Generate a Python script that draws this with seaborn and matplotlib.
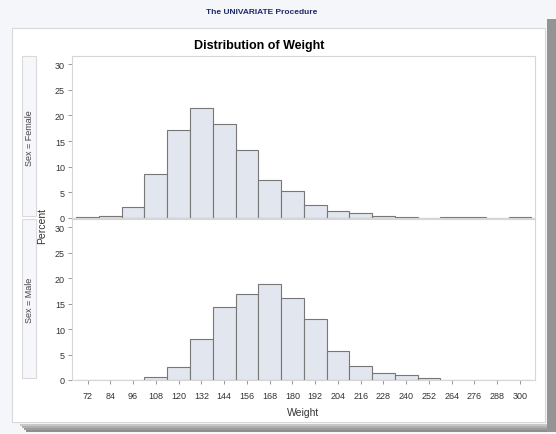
import numpy as np
import pandas as pd
import matplotlib
matplotlib.use("Agg")
import matplotlib.pyplot as plt
from matplotlib.patches import Rectangle
import seaborn as sns

sns.set_theme(style="white")
plt.rcParams['font.family'] = ['Liberation Sans', 'DejaVu Sans']

# ---- data (percent per 12-lb bin, bin midpoints) ----
midpoints = [72, 84, 96, 108, 120, 132, 144, 156, 168, 180, 192, 204, 216, 228, 240, 252, 264, 276, 288, 300]
female_pct = [0.1, 0.3, 2.2, 8.5, 17.1, 21.5, 18.4, 13.2, 7.4, 5.3, 2.6, 1.4, 0.9, 0.45, 0.25, 0.0, 0.1, 0.1, 0.0, 0.1]
male_pct = [0.0, 0.0, 0.0, 0.6, 2.6, 8.1, 14.4, 16.9, 18.8, 16.1, 11.9, 5.7, 2.8, 1.45, 1.0, 0.3, 0.05, 0.05, 0.05, 0.0]
groups = ["Female", "Male"]
yticks = [0, 5, 10, 15, 20, 25, 30]

df = pd.DataFrame({
    "Weight": midpoints * 2,
    "Percent": female_pct + male_pct,
    "Sex": ["Female"] * len(midpoints) + ["Male"] * len(midpoints),
})
bin_w = midpoints[1] - midpoints[0]
bin_range = (midpoints[0] - bin_w / 2, midpoints[-1] + bin_w / 2)

W, H = 556, 435
fig = plt.figure(figsize=(W / 100, H / 100), dpi=100)
fig.patch.set_facecolor("#F4F6FA")

def px(x0, y0, w, h):
    return [x0 / W, 1 - (y0 + h) / H, w / W, h / H]

# shadow (soft) and white panel
for k, c in enumerate(["#C8C8C8", "#B0B0B0", "#9C9C9C", "#8E8E8E"]):
    fig.patches.append(Rectangle(((20 + k * 2) / W, 1 - (425 + 2 * k + 2) / H), (536 - k * 2) / W, 2 / H,
                                 transform=fig.transFigure, facecolor=c, edgecolor="none", zorder=0))
fig.patches.append(Rectangle((547 / W, 1 - 433 / H), 9 / W, 413 / H, transform=fig.transFigure,
                             facecolor="#949494", edgecolor="none", zorder=0))
fig.patches.append(Rectangle((12 / W, 1 - 423 / H), 533 / W, 394 / H, transform=fig.transFigure,
                             facecolor="white", edgecolor="#D8D8D8", linewidth=0.8, zorder=1))

fig.text(262 / W, 1 - 12 / H, "The UNIVARIATE Procedure", ha="center", va="center",
         fontsize=6, fontweight="bold", color="#1F2A6B")
fig.text(259 / W, 1 - 46 / H, "Distribution of Weight", ha="center", va="center",
         fontsize=9, fontweight="bold", color="black")

fill = "#E2E6EF"
edge = "#777777"
panels = [(57, 162), (220, 161)]

for i, (g, (top, h)) in enumerate(zip(groups, panels)):
    ax = fig.add_axes(px(72, top, 463, h))
    ax.set_zorder(3)
    sub = df[df["Sex"] == g]
    sns.histplot(data=sub, x="Weight", weights="Percent", binwidth=bin_w, binrange=bin_range,
                 ax=ax, color=fill, edgecolor=edge, linewidth=0.8, alpha=1)
    ax.set_xlim(63.8, 307.9)
    ax.set_ylim(0, 31.6)
    ax.set_yticks(yticks)
    ax.set_yticklabels([str(t) for t in yticks], fontsize=6.5, color="#333333")
    ax.set_ylabel("")
    for s in ax.spines.values():
        s.set_color("#D6D6D6")
        s.set_linewidth(0.8)
    ax.tick_params(axis="y", left=True, length=3, width=0.6, color="#888888", pad=2)
    if i == 0:
        ax.set_xticks([])
        ax.set_xlabel("")
    else:
        ax.set_xticks(midpoints)
        ax.set_xticklabels([str(m) for m in midpoints], fontsize=6.5, color="#333333")
        ax.tick_params(axis="x", bottom=True, length=3, width=0.6, color="#888888", pad=5)
        ax.set_xlabel("Weight", fontsize=7.5, color="#333333", labelpad=5)
    # strip label
    fig.patches.append(Rectangle((22 / W, 1 - (top + h - 2) / H), 14 / W, (h - 2) / H,
                                 transform=fig.transFigure, facecolor="#F6F7FB",
                                 edgecolor="#DADADA", linewidth=0.8, zorder=2))
    fig.text(29 / W, 1 - (top + h / 2) / H, "Sex = " + g, rotation=90, ha="center",
             va="center", fontsize=6.5, color="#444444", zorder=4)

fig.text(42 / W, 1 - 226 / H, "Percent", rotation=90, ha="center", va="center",
         fontsize=7.5, color="#333333", zorder=4)

fig.savefig("out.png", dpi=100, facecolor=fig.get_facecolor())
